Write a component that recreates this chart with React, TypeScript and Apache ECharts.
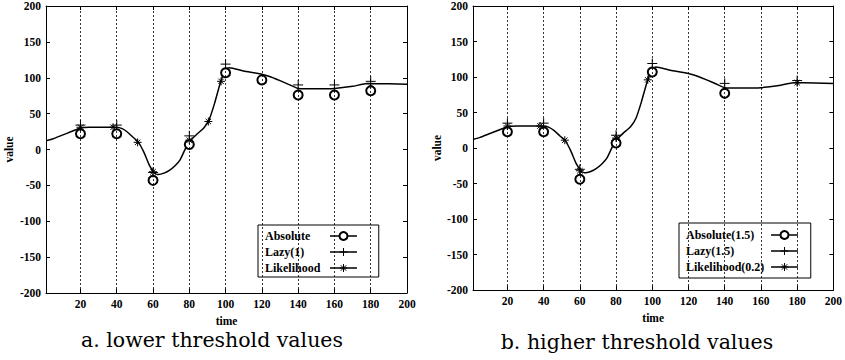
import React, { useEffect, useRef } from "react";
import * as echarts from "echarts";

// Shared reconstructed signal (solid curve)
const curveX = [1, 5, 10, 15, 20, 25, 30, 35, 40, 43, 46, 49, 52, 55, 58, 61, 63, 66, 69, 72, 75, 78, 80, 84, 88, 91, 94, 97, 100, 102, 110, 120, 125, 130, 135, 140, 150, 160, 170, 178, 190, 200];
const curveY = [12, 15, 20, 25, 30, 31, 31, 31, 31, 29, 24, 17, 10, -4, -22, -33, -35, -33, -29, -23, -14, 2, 11, 21, 30, 42, 65, 92, 112, 114, 109.5, 105, 101, 96, 90.5, 85, 84.5, 85, 88, 92, 91.5, 91];

// Panel a (lower thresholds)
const absAX = [20, 40, 60, 80, 100, 120, 140, 160, 180];
const absAY = [22, 22, -43, 7, 107, 97, 76, 76, 82];
const lazyAX = [20, 40, 60, 80, 100, 140, 160, 180];
const lazyAY = [34, 34, -32, 19, 119, 90, 90, 95];
const likAX = [20, 38, 51.5, 60, 80, 90.5, 97.5];
const likAY = [31, 31, 10, -31, 13, 39, 95];

// Panel b (higher thresholds)
const absBX = [20, 40, 60, 80, 100, 140];
const absBY = [23, 23, -44, 7, 107, 77];
const lazyBX = [20, 40, 60, 80, 100, 140, 180];
const lazyBY = [35, 35, -30, 18, 119, 91, 95];
const likBX = [20, 38, 51.7, 60, 80, 97.5, 180];
const likBY = [31, 31, 11, -32, 14, 96, 92];

const namesA = ["Absolute", "Lazy(1)", "Likelihood"];
const namesB = ["Absolute(1.5)", "Lazy(1.5)", "Likelihood(0.2)"];
const captions = ["a. lower threshold values", "b. higher threshold values"];

const xTicks = [20, 40, 60, 80, 100, 120, 140, 160, 180, 200];
const gridLines = [20, 40, 60, 80, 100, 120, 140, 160, 180];

const zip = (xs: number[], ys: number[]) => xs.map((x, i) => [x, ys[i]]);

const PLUS = "path://M5,0L5,10M0,5L10,5";
const STAR = "path://M5,0L5,10M0,5L10,5M1.6,1.6L8.4,8.4M8.4,1.6L1.6,8.4";
const FONT = "Liberation Serif, DejaVu Serif, serif";
const CAPFONT = "DejaVu Serif, Liberation Serif, serif";

const tickFont = { fontFamily: FONT, fontWeight: "bold" as const, fontSize: 11.5, color: "#000" };
const legFont = { ...tickFont, fontSize: 12 };

export default function App() {
  const ref = useRef<HTMLDivElement>(null);
  useEffect(() => {
    if (!ref.current) return;
    const chart = echarts.init(ref.current, null, { renderer: "svg" });
    const grids = [
      { left: 46, top: 6, width: 361, height: 287 },
      { left: 473, top: 6, width: 363, height: 284 },
    ];
    const xAxes: any[] = [];
    const yAxes: any[] = [];
    const nameGapX = [21, 19];
    const nameGapY = [31, 30];
    grids.forEach((_, g) => {
      xAxes.push({
        type: "value", gridIndex: g, min: 1, max: 200, position: "bottom",
        name: "time", nameLocation: "middle", nameGap: nameGapX[g],
        nameTextStyle: tickFont,
        axisLine: { show: true, onZero: false, lineStyle: { color: "#000", width: 1 } },
        axisTick: { show: true, inside: true, length: 4, customValues: xTicks, lineStyle: { color: "#000" } },
        axisLabel: { show: true, margin: 5, customValues: xTicks, ...tickFont },
        splitLine: { show: false },
      });
      xAxes.push({
        type: "value", gridIndex: g, min: 1, max: 200, position: "top",
        axisLine: { show: true, onZero: false, lineStyle: { color: "#000", width: 1 } },
        axisTick: { show: true, inside: true, length: 4, customValues: xTicks, lineStyle: { color: "#000" } },
        axisLabel: { show: false },
        splitLine: { show: false },
      });
      yAxes.push({
        type: "value", gridIndex: g, min: -200, max: 200, interval: 50, position: "left",
        name: "value", nameLocation: "middle", nameGap: nameGapY[g], nameRotate: 90,
        nameTextStyle: tickFont,
        axisLine: { show: true, onZero: false, lineStyle: { color: "#000", width: 1 } },
        axisTick: { show: true, inside: true, length: 4, lineStyle: { color: "#000" } },
        axisLabel: { show: true, margin: 5, ...tickFont },
        splitLine: { show: false },
      });
      yAxes.push({
        type: "value", gridIndex: g, min: -200, max: 200, interval: 50, position: "right",
        axisLine: { show: true, onZero: false, lineStyle: { color: "#000", width: 1 } },
        axisTick: { show: true, inside: true, length: 4, lineStyle: { color: "#000" } },
        axisLabel: { show: false },
        splitLine: { show: false },
      });
    });

    const markerSeries = (name: string, data: number[][], symbol: string, size: number, g: number) => ({
      type: "line", name, data, xAxisIndex: g * 2, yAxisIndex: g * 2,
      symbol, symbolSize: size, showSymbol: true, z: 3,
      lineStyle: { width: 0, opacity: 0 },
      itemStyle: { color: "#000", borderColor: "#000", borderWidth: 1 },
    });

    const curveSeries = (g: number) => ({
      type: "line", name: "curve" + g, data: zip(curveX, curveY),
      xAxisIndex: g * 2, yAxisIndex: g * 2, showSymbol: false, smooth: 0.15,
      lineStyle: { color: "#000", width: 1.5 }, z: 2,
      markLine: {
        silent: true, symbol: ["none", "none"], label: { show: false },
        lineStyle: { color: "#000", width: 0.8, type: [2, 2] },
        data: gridLines.map((v) => ({ xAxis: v })),
      },
    });

    const legendBase = {
      orient: "vertical", align: "right", borderColor: "#000", borderWidth: 1,
      backgroundColor: "#fff", itemWidth: 27, itemHeight: 10, itemGap: 4,
      lineStyle: { color: "#000", width: 1.5, opacity: 1 },
      itemStyle: { color: "#000", borderColor: "#000", borderWidth: 1 },
      selectedMode: false,
      formatter: (n: string) => "{t|" + n + "}",
    };

    chart.setOption({
      animation: false,
      backgroundColor: "#fff",
      grid: grids,
      xAxis: xAxes,
      yAxis: yAxes,
      legend: [
        { ...legendBase, data: namesA, left: 258, top: 225, padding: [5, 21, 3, 7],
          textStyle: { ...legFont, rich: { t: { ...legFont, width: 60, align: "left" } } } },
        { ...legendBase, data: namesB, left: 679, top: 223, padding: [6, 12, 5, 7],
          textStyle: { ...legFont, rich: { t: { ...legFont, width: 80, align: "left" } } } },
      ],
      series: [
        curveSeries(0),
        markerSeries(namesA[0], zip(absAX, absAY), "emptyCircle", 9, 0),
        markerSeries(namesA[1], zip(lazyAX, lazyAY), PLUS, 10, 0),
        markerSeries(namesA[2], zip(likAX, likAY), STAR, 8, 0),
        curveSeries(1),
        markerSeries(namesB[0], zip(absBX, absBY), "emptyCircle", 9, 1),
        markerSeries(namesB[1], zip(lazyBX, lazyBY), PLUS, 10, 1),
        markerSeries(namesB[2], zip(likBX, likBY), STAR, 8, 1),
      ],
      graphic: [
        { type: "text", x: 212, y: 340, style: { text: captions[0], fontFamily: CAPFONT, fontSize: 20.5, fill: "#000", align: "center", verticalAlign: "middle" } },
        { type: "text", x: 637, y: 342, style: { text: captions[1], fontFamily: CAPFONT, fontSize: 20.5, fill: "#000", align: "center", verticalAlign: "middle" } },
      ],
    });
    return () => chart.dispose();
  }, []);
  return <div ref={ref} style={{ position: "fixed", left: 0, top: 0, width: 845, height: 360 }} />;
}
